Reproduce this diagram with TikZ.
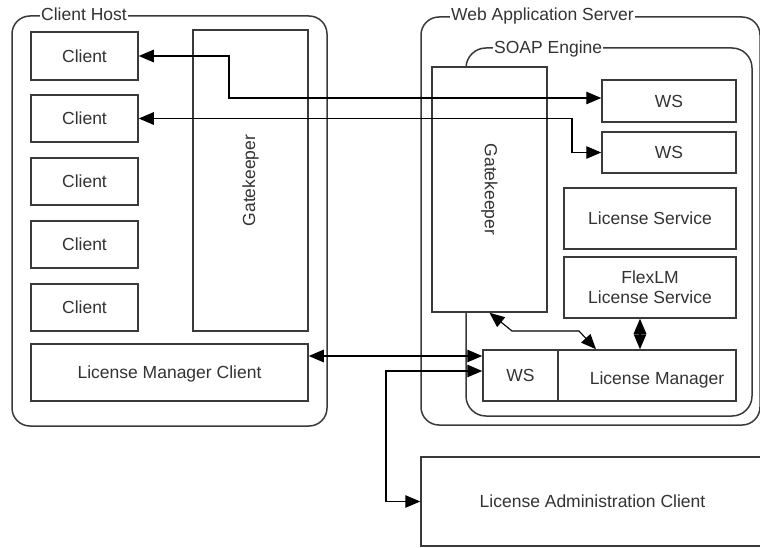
\documentclass[tikz,border=0pt]{standalone}
\usepackage{fontspec}
\setmainfont{Liberation Sans}
\usetikzlibrary{arrows.meta}
\definecolor{edge}{HTML}{3A3A3A}
\definecolor{txt}{HTML}{333333}
\begin{document}
\begin{tikzpicture}[x=1pt,y=-1pt,
  font=\fontsize{17.5}{20}\selectfont,
  box/.style={draw=edge, line width=1.5pt, fill=white, text=txt, inner sep=0pt, text depth=0pt},
  cont/.style={draw=edge, line width=1.5pt, rounded corners=18pt, inner sep=0pt},
  lbl/.style={fill=white, text=txt, inner xsep=1pt, inner ysep=0pt, anchor=base west},
  tip/.tip={Triangle[length=15pt,width=12.5pt]},
  link/.style={line width=1.1pt, draw=black, tip-tip},
]
\useasboundingbox (0,0) rectangle (760,548);

% containers
\node[cont, minimum width=315pt, minimum height=410pt] (ch) at (169.5,221) {};
\node[cont, minimum width=339pt, minimum height=408pt] (was) at (590.5,221) {};
\node[cont, minimum width=286pt, minimum height=368pt, rounded corners=20pt] (soap) at (609,232) {};
\node[lbl] (chl) at (40,21) {Client Host};
\node[lbl] (wasl) at (450,21) {Web Application Server};
\node[lbl] (soapl) at (493,53.5) {SOAP Engine};

% client host
\node[box, minimum width=107pt, minimum height=48pt] (c1) at (84.5,56) {Client};
\node[box, minimum width=107pt, minimum height=47pt] (c2) at (84.5,118.5) {Client};
\node[box, minimum width=107pt, minimum height=47pt] (c3) at (84.5,181.5) {Client};
\node[box, minimum width=107pt, minimum height=47pt] (c4) at (84.5,244.5) {Client};
\node[box, minimum width=107pt, minimum height=47pt] (c5) at (84.5,307.5) {Client};
\node[box, minimum width=115pt, minimum height=301pt,
      label={[rotate=90,text=txt]center:Gatekeeper}] (gk1) at (250.5,180.5) {};
\node[box, minimum width=277pt, minimum height=57pt] (lmc) at (169.5,372.5) {License Manager Client};

% web application server
\node[box, minimum width=115pt, minimum height=245pt,
      label={[rotate=-90,text=txt]center:Gatekeeper}] (gk2) at (489.5,189.5) {};
\node[box, minimum width=134pt, minimum height=42pt] (ws1) at (669,101) {WS};
\node[box, minimum width=134pt, minimum height=41pt] (ws2) at (669,152.5) {WS};
\node[box, minimum width=172pt, minimum height=61pt] (ls) at (650,218.5) {License Service};
\node[box, minimum width=172pt, minimum height=61pt, align=center] (flex) at (650,287.5) {FlexLM\\License Service};
\node[box, minimum width=75pt, minimum height=51pt] (ws) at (520.5,375.5) {WS};
\node[box, minimum width=178pt, minimum height=51pt,
      label={[shift={(10pt,-4.5pt)},text=txt]center:License Manager}] (lm) at (647,375.5) {};

\node[box, minimum width=343pt, minimum height=89pt] (lac) at (592.5,501.5) {License Administration Client};

% connectors
\coordinate (k1) at (229,0);
\draw[link] (c1.east) -- (c1.east -| k1) |- ([yshift=3pt]ws1.west);
\coordinate (k2) at (572,0);
\draw[link] (c2.east) -- (c2.east -| k2) |- (ws2.west);
\coordinate (a3) at (0,356);
\draw[link] (lmc.east |- a3) -- (ws.west |- a3);
\coordinate (a4) at (0,371);
\coordinate (k4) at (386,0);
\draw[link] (ws.west |- a4) -- (k4 |- a4) |- (lac.west);
\coordinate (w1) at (512,331);
\coordinate (w2) at (579,331);
\coordinate (t5) at (596,0);
\draw[link] (gk2.south) -- (w1) -- (w2) -- (lm.north -| t5);
\coordinate (t6) at (640,0);
\draw[link] (flex.south -| t6) -- (lm.north -| t6);
\end{tikzpicture}
\end{document}
